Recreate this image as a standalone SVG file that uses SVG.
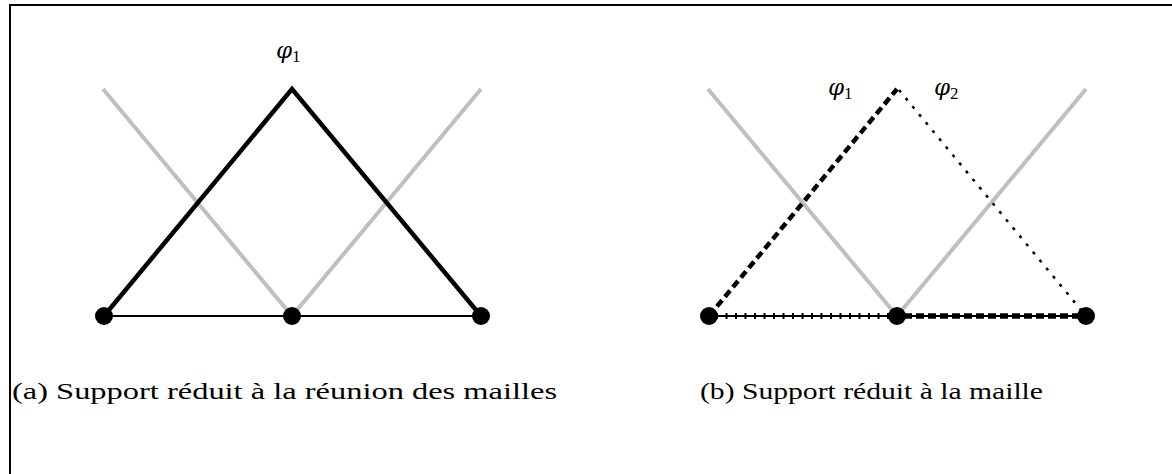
<svg xmlns="http://www.w3.org/2000/svg" width="1172" height="474" viewBox="0 0 1172 474">
<style>
.frame{stroke:#000;stroke-width:2;fill:none}
.gray{stroke:#bfbfbf;stroke-width:4;fill:none;stroke-linecap:butt}
.thick{stroke:#000;stroke-width:4.5;fill:none;stroke-linejoin:miter}
.base{stroke:#000;stroke-width:2;fill:none}
.dash1{stroke:#000;stroke-width:4.5;fill:none;stroke-dasharray:8 4.5}
.dot2{stroke:#000;stroke-width:2.5;fill:none;stroke-dasharray:3 7.5}
.ticks{stroke:#000;stroke-width:6;fill:none;stroke-dasharray:2 7.5}
.dashb{stroke:#000;stroke-width:5.5;fill:none;stroke-dasharray:8 4}
.dot{fill:#000}
.cap{font-family:"Liberation Serif","DejaVu Serif",serif;font-size:24px;fill:#000}
.phi{font-family:"DejaVu Serif","Liberation Serif",serif;font-style:italic;font-size:23px;fill:#000}
.sub{font-family:"Liberation Serif","DejaVu Serif",serif;font-size:17px;fill:#000}
</style>
<rect x="0" y="0" width="1172" height="474" fill="#fff"/>
<path class="frame" d="M10,474 V5 H1172"/>
<g id="connectors">
  <line class="gray" x1="103" y1="89" x2="292" y2="316"/>
  <line class="gray" x1="292" y1="316" x2="481" y2="89"/>
  <polyline class="thick" points="104,316 292,89 481,316"/>
  <line class="base" x1="104" y1="316" x2="481" y2="316"/>
  <line class="gray" x1="708" y1="89" x2="897" y2="316"/>
  <line class="gray" x1="897" y1="316" x2="1086" y2="89"/>
  <line class="dash1" x1="709" y1="316" x2="897" y2="89"/>
  <line class="dot2" x1="899" y1="90" x2="1086" y2="316"/>
  <line class="base" x1="709" y1="316" x2="1086" y2="316"/>
  <line class="ticks" x1="716" y1="316" x2="897" y2="316"/>
  <line class="dashb" x1="904" y1="316" x2="1086" y2="316"/>
</g>
<g id="node-a1"><circle class="dot" cx="104" cy="316" r="9"/></g>
<g id="node-a2"><circle class="dot" cx="292" cy="316" r="9"/></g>
<g id="node-a3"><circle class="dot" cx="481" cy="316" r="9"/></g>
<g id="node-b1"><circle class="dot" cx="709" cy="316" r="9"/></g>
<g id="node-b2"><circle class="dot" cx="897" cy="316" r="9"/></g>
<g id="node-b3"><circle class="dot" cx="1086" cy="316" r="9"/></g>
<g id="labels">
  <text class="phi" x="276" y="58">φ<tspan class="sub" font-style="normal" dy="4">1</tspan></text>
  <text class="phi" x="828" y="95">φ<tspan class="sub" font-style="normal" dy="4">1</tspan></text>
  <text class="phi" x="934" y="95">φ<tspan class="sub" font-style="normal" dy="4">2</tspan></text>
  <text class="cap" x="12" y="399" textLength="545" lengthAdjust="spacingAndGlyphs">(a) Support réduit à la réunion des mailles</text>
  <text class="cap" x="700" y="399" textLength="343" lengthAdjust="spacingAndGlyphs">(b) Support réduit à la maille</text>
</g>
</svg>
